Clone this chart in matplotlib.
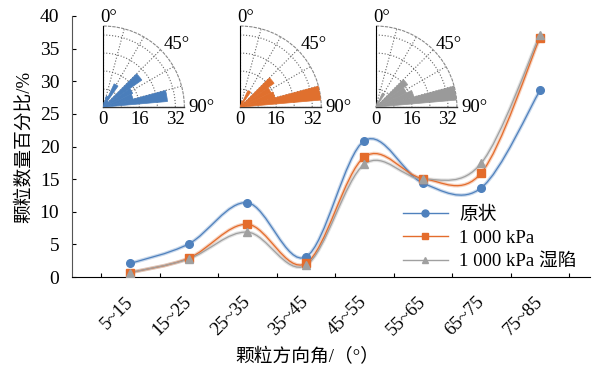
import numpy as np
import matplotlib
matplotlib.use("Agg")
from matplotlib import pyplot as plt
from matplotlib.path import Path
from matplotlib.patches import PathPatch
from matplotlib.lines import Line2D

plt.rcParams['font.family'] = ['Liberation Serif', 'Noto Sans CJK SC']
plt.rcParams['axes.unicode_minus'] = False

# data
categories = ['5~15', '15~25', '25~35', '35~45', '45~55', '55~65', '65~75', '75~85']
bin_centers = [10, 20, 30, 40, 50, 60, 70, 80]
intact = [2.1, 5.1, 11.4, 3.1, 20.9, 14.4, 13.7, 28.6]
loaded = [0.7, 2.9, 8.1, 2.1, 18.4, 15.1, 16.0, 36.7]
wetted = [0.7, 2.8, 6.9, 1.8, 17.3, 15.0, 17.5, 37.1]
series_names = ['原状', '1 000 kPa', '1 000 kPa 湿陷']

colors = ['#4f81bd', '#e46c2c', '#a0a0a0']
markers = ['o', 's', '^']
series = [intact, loaded, wetted]


def smooth_path(xs, ys):
    # cubic bezier through the points (catmull-rom style, like excel smoothing)
    pts = np.column_stack([xs, ys]).astype(float)
    n = len(pts)
    verts = [pts[0]]
    codes = [Path.MOVETO]
    for i in range(n - 1):
        p0 = pts[i - 1] if i > 0 else pts[i]
        p1 = pts[i]
        p2 = pts[i + 1]
        p3 = pts[i + 2] if i + 2 < n else pts[i + 1]
        c1 = p1 + (p2 - p0) / 6.0
        c2 = p2 - (p3 - p1) / 6.0
        verts += [c1, c2, p2]
        codes += [Path.CURVE4] * 3
    return Path(verts, codes)


fig = plt.figure(figsize=(6.03, 3.72), dpi=100)
ax = fig.add_axes([0.119, 0.255, 0.859, 0.702])

x = np.arange(len(categories))
for vals, c, m in zip(series, colors, markers):
    p = smooth_path(x, vals)
    ax.add_patch(PathPatch(p, facecolor='none', edgecolor=c, lw=2.6, alpha=0.3, zorder=2))
    ax.add_patch(PathPatch(p, facecolor='none', edgecolor=c, lw=0.9, zorder=3))
    ax.plot(x, vals, ls='none', marker=m, color=c, ms=5.5, zorder=4)

ax.set_xlim(-1, 7.85)
ax.set_ylim(0, 40)
ax.set_yticks(np.arange(0, 41, 5))
ax.tick_params(axis='y', direction='in', length=3, labelsize=14, pad=9)
ax.set_xticks(np.arange(-0.5, 8, 1))
ax.set_xticklabels([])
ax.set_xticks(x, minor=True)
ax.set_xticklabels(categories, minor=True, rotation=45, ha='right', va='center',
                   rotation_mode='anchor', fontsize=13.5)
ax.tick_params(axis='x', which='major', direction='in', length=3)
ax.tick_params(axis='x', which='minor', length=0, pad=16)
for s in ['top', 'right']:
    ax.spines[s].set_visible(False)
ax.spines['left'].set_color('#555555')
ax.set_ylabel('颗粒数量百分比/%', fontsize=13.5, labelpad=5)
ax.set_xlabel('颗粒方向角/（°）', fontsize=13.5)
ax.xaxis.set_label_coords(0.455, -0.27)

handles = [Line2D([0], [0], color=c, marker=m, ms=5, lw=1) for c, m in zip(colors, markers)]
fig.legend(handles, series_names, loc='upper left', bbox_to_anchor=(0.64, 0.49),
           frameon=False, fontsize=13.5, handlelength=2.4, labelspacing=0.32,
           handletextpad=0.6)

# rose diagram insets
inset_left = [0.171, 0.398, 0.623]
bar_colors = ['#4a7ebb', '#e0702e', '#9a9a9a']
for left, vals, bc in zip(inset_left, series, bar_colors):
    pax = fig.add_axes([left, 0.712, 0.135, 0.218], projection='polar')
    pax.set_theta_zero_location('N')
    pax.set_theta_direction(-1)
    pax.set_thetamin(0)
    pax.set_thetamax(90)
    pax.set_rlim(0, 36)
    pax.bar(np.deg2rad(bin_centers), vals, width=np.deg2rad(10), color=bc,
            edgecolor=bc, lw=0.5, zorder=3)
    pax.set_thetagrids([0, 15, 30, 45, 60, 75, 90], labels=[''] * 7)
    pax.set_rgrids([8, 16, 24, 32], labels=[''] * 4)
    pax.grid(True, ls=':', lw=0.8, color='#666666')
    pax.spines['polar'].set_linestyle((0, (2, 2)))
    pax.spines['polar'].set_color('#888888')
    pax.spines['polar'].set_linewidth(0.8)
    pax.spines['start'].set_visible(False)
    pax.spines['end'].set_color('#333333')
    pax.spines['end'].set_linewidth(1.0)
    pax.spines['inner'].set_visible(False)
    pax.patch.set_alpha(0)
    pax.tick_params(length=0)
    for r in [0, 16, 32]:
        pax.annotate(str(r), (np.pi / 2, r), xytext=(0, -3), textcoords='offset points',
                     ha='center', va='top', fontsize=13.5)
    pax.annotate('0°', (0, 36), xytext=(4, 0), textcoords='offset points',
                 ha='center', va='bottom', fontsize=13.5)
    pax.annotate('45°', (np.pi / 4, 36), xytext=(2, 4), textcoords='offset points',
                 ha='left', va='center', fontsize=13.5)
    pax.annotate('90°', (np.pi / 2, 36), xytext=(3, 0), textcoords='offset points',
                 ha='left', va='center', fontsize=13.5)

fig.savefig('out.png', dpi=100)
